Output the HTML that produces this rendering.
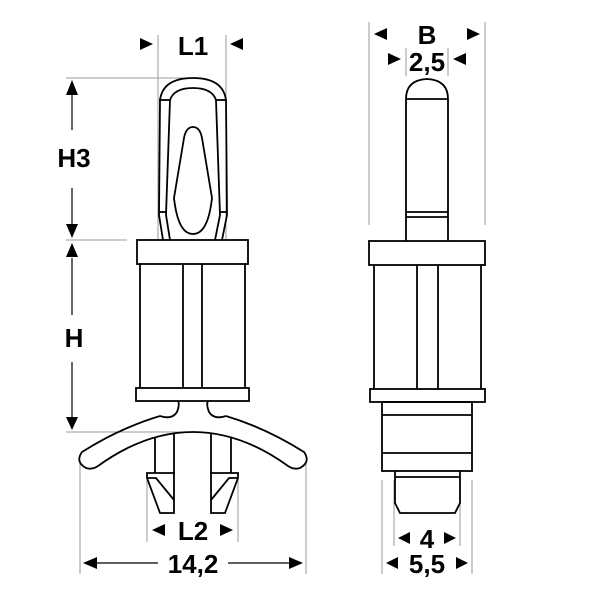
<!DOCTYPE html>
<html><head><style>body{margin:0;background:#fff}svg{display:block}text{font-family:"Liberation Sans",Arial,sans-serif;font-weight:bold;font-size:26px;fill:#000;text-anchor:middle}</style></head>
<body>
<svg width="600" height="600" viewBox="0 0 600 600" xmlns="http://www.w3.org/2000/svg">
<g stroke="#999" stroke-width="1" fill="none">
<line x1="158" y1="35" x2="158" y2="240"/><line x1="226" y1="35" x2="226" y2="240"/>
<line x1="66" y1="78" x2="192" y2="78"/><line x1="66" y1="240" x2="127" y2="240"/>
<line x1="66" y1="432" x2="190" y2="432"/>
<line x1="147" y1="473" x2="147" y2="542"/><line x1="238" y1="473" x2="238" y2="542"/>
<line x1="80" y1="462" x2="80" y2="574"/><line x1="306" y1="462" x2="306" y2="574"/>
<line x1="369" y1="22" x2="369" y2="225"/><line x1="485" y1="22" x2="485" y2="225"/>
<line x1="406" y1="48" x2="406" y2="76"/><line x1="448" y1="48" x2="448" y2="76"/>
<line x1="394" y1="480" x2="394" y2="546"/><line x1="460" y1="480" x2="460" y2="546"/>
<line x1="382" y1="480" x2="382" y2="574"/><line x1="472" y1="480" x2="472" y2="574"/>
</g>
<g stroke="#000" stroke-width="1.2">
<line x1="72" y1="92" x2="72" y2="130"/><line x1="72" y1="188" x2="72" y2="225"/>
<line x1="72" y1="258" x2="72" y2="315"/><line x1="72" y1="362" x2="72" y2="418"/>
<line x1="95" y1="563" x2="158" y2="563"/><line x1="228" y1="563" x2="292" y2="563"/>
</g>
<g fill="#000">
<polygon points="66,95 78,95 72,80"/><polygon points="66,224 78,224 72,238"/>
<polygon points="66,257 78,257 72,243"/><polygon points="66,417 78,417 72,430"/>
<polygon points="140,38 140,50 153,44"/><polygon points="243,38 243,50 230,44"/>
<polygon points="165,524 165,536 152,530"/><polygon points="220,524 220,536 233,530"/>
<polygon points="97,557 97,569 83,563"/><polygon points="289,557 289,569 303,563"/>
<polygon points="387,28 387,40 374,34"/><polygon points="467,28 467,40 480,34"/>
<polygon points="388,53 388,65 401,59"/><polygon points="466,53 466,65 453,59"/>
<polygon points="410,532 410,544 398,538"/><polygon points="444,532 444,544 456,538"/>
<polygon points="398,557 398,569 386,563"/><polygon points="456,557 456,569 468,563"/>
</g>
<text x="193" y="55">L1</text>
<text x="74" y="167">H3</text>
<text x="74" y="347">H</text>
<text x="193" y="540">L2</text>
<text x="193" y="573">14,2</text>
<text x="427" y="44">B</text>
<text x="427" y="71">2,5</text>
<text x="427" y="548">4</text>
<text x="427" y="573">5,5</text>
<g stroke="#000" stroke-width="1.8" fill="none">
<path d="M163,240 L159,215 L160,100 Q163,78 193,78 Q223,78 226,100 L227,215 L222,240"/>
<path d="M170,240 L166,215 L170,100 Q174,88 193,88 Q212,88 216,100 L220,215 L215,240"/>
<line x1="159" y1="100" x2="170" y2="100"/><line x1="216" y1="100" x2="226" y2="100"/>
<line x1="159" y1="212" x2="166" y2="212"/><line x1="220" y1="212" x2="227" y2="212"/>
<path d="M193,127 Q186,127 184,138 L174,198 Q178,234 193,234 Q208,234 212,198 L202,138 Q200,127 193,127 Z"/>
<rect x="137" y="240" width="111" height="24" fill="#fff"/>
<line x1="140" y1="264" x2="140" y2="388"/><line x1="183" y1="264" x2="183" y2="388"/>
<line x1="202" y1="264" x2="202" y2="388"/><line x1="245" y1="264" x2="245" y2="388"/>
<rect x="136" y="388" width="113" height="13" fill="#fff"/>
<path d="M160,416 Q120,428 82,452 Q75,462 86,468 Q92,470 98,466 Q145,432 193,432 Q241,432 288,466 Q294,470 300,468 Q311,462 304,452 Q266,428 226,416"/>
<path d="M160,416 Q172,420 177,412 Q180,404 178,401"/>
<path d="M226,416 Q214,420 209,412 Q206,404 208,401"/>
<line x1="155" y1="437" x2="155" y2="473"/><line x1="174" y1="433" x2="174" y2="473"/>
<line x1="211" y1="433" x2="211" y2="473"/><line x1="231" y1="437" x2="231" y2="473"/>
<path d="M147,473 L174,473 L174,513 L160,513 L147,478 Z"/>
<path d="M147,478 L156,478 L174,500"/>
<path d="M238,473 L211,473 L211,513 L225,513 L238,478 Z"/>
<path d="M238,478 L229,478 L211,500"/>
<path d="M406,241 L406,99 Q406,80 427,79 Q448,80 448,99 L448,241"/>
<line x1="406" y1="99" x2="448" y2="99"/>
<line x1="406" y1="212" x2="448" y2="212"/><line x1="406" y1="217" x2="448" y2="217"/>
<rect x="369" y="241" width="116" height="24" fill="#fff"/>
<line x1="374" y1="265" x2="374" y2="389"/><line x1="417" y1="265" x2="417" y2="389"/>
<line x1="438" y1="265" x2="438" y2="389"/><line x1="481" y1="265" x2="481" y2="389"/>
<rect x="370" y="389" width="115" height="13" fill="#fff"/>
<rect x="382" y="402" width="90" height="69"/>
<line x1="382" y1="415" x2="472" y2="415"/><line x1="382" y1="453" x2="472" y2="453"/>
<path d="M395,471 L395,503 L400,513 L455,513 L460,503 L460,471"/>
<line x1="395" y1="477" x2="460" y2="477"/>
</g>
</svg>
</body></html>
